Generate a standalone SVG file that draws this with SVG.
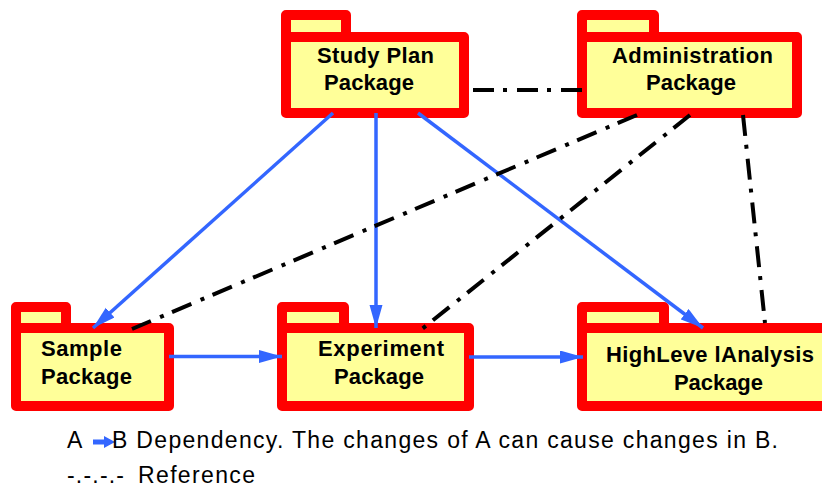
<svg xmlns="http://www.w3.org/2000/svg" width="822" height="489" viewBox="0 0 822 489">
<style>
.pk{fill:#FFFF99;stroke:#FF0000;stroke-width:10;stroke-linejoin:round}
.lb{font-family:"Liberation Sans",Arial,sans-serif;font-weight:bold;font-size:22px;fill:#000}
.lg{font-family:"Liberation Sans",Arial,sans-serif;font-size:23px;fill:#000}
.dep{stroke:#3366FF;stroke-width:3.5;fill:none}
.ref{stroke:#000;stroke-width:4;fill:none;stroke-dasharray:21 9 4 10}
</style>
<defs>
<marker id="ah" markerUnits="userSpaceOnUse" markerWidth="24" markerHeight="14" refX="23" refY="6.5" orient="auto">
<path d="M0,0 L23,6.5 L0,13 Z" fill="#3366FF"/>
</marker>
</defs>
<g id="studyplan">
<rect class="pk" x="286" y="15" width="60" height="22"/>
<rect class="pk" x="286" y="37" width="178" height="76"/>
<text class="lb" x="317" y="63" textLength="117">Study Plan</text>
<text class="lb" x="324" y="90" textLength="90">Package</text>
</g>
<g id="administration">
<rect class="pk" x="582" y="15" width="72" height="22"/>
<rect class="pk" x="582" y="37" width="215" height="76"/>
<text class="lb" x="612" y="63" textLength="161">Administration</text>
<text class="lb" x="646" y="90" textLength="90">Package</text>
</g>
<g id="sample">
<rect class="pk" x="16" y="307" width="50" height="21"/>
<rect class="pk" x="16" y="328" width="153" height="78"/>
<text class="lb" x="41" y="356" textLength="81">Sample</text>
<text class="lb" x="41" y="384" textLength="91">Package</text>
</g>
<g id="experiment">
<rect class="pk" x="282" y="307" width="62" height="21"/>
<rect class="pk" x="282" y="328" width="187" height="78"/>
<text class="lb" x="318" y="356" textLength="126">Experiment</text>
<text class="lb" x="334" y="384" textLength="90">Package</text>
</g>
<g id="highlevel">
<rect class="pk" x="582" y="307" width="82" height="21"/>
<rect class="pk" x="582" y="328" width="256" height="78"/>
<text class="lb" x="606" y="362" textLength="208">HighLeve lAnalysis</text>
<text class="lb" x="674" y="390" textLength="89">Package</text>
</g>
<g id="connectors">
<line class="dep" x1="333" y1="113" x2="93" y2="328" marker-end="url(#ah)"/>
<line class="dep" x1="376" y1="113" x2="376" y2="328" marker-end="url(#ah)"/>
<line class="dep" x1="418" y1="113" x2="703" y2="328" marker-end="url(#ah)"/>
<line class="dep" x1="169" y1="356.5" x2="282" y2="356.5" marker-end="url(#ah)"/>
<line class="dep" x1="469" y1="357" x2="583" y2="357" marker-end="url(#ah)"/>
<line class="ref" x1="473" y1="90" x2="582" y2="90"/>
<line class="ref" x1="637" y1="115" x2="132" y2="329"/>
<line class="ref" x1="690" y1="115" x2="422" y2="329"/>
<line class="ref" x1="743" y1="115" x2="765" y2="323"/>
</g>
<g id="legend">
<text class="lg" x="67" y="448">A</text>
<path d="M93,439.5 H104 V436 L115,442 L104,448 V444.5 H93 Z" fill="#3366FF"/>
<text class="lg" x="112" y="448" textLength="666">B Dependency. The changes of A can cause changes in B.</text>
<text class="lg" x="67" y="483" textLength="57">-.-.-.-</text>
<text class="lg" x="138" y="483" textLength="117">Reference</text>
</g>
</svg>
